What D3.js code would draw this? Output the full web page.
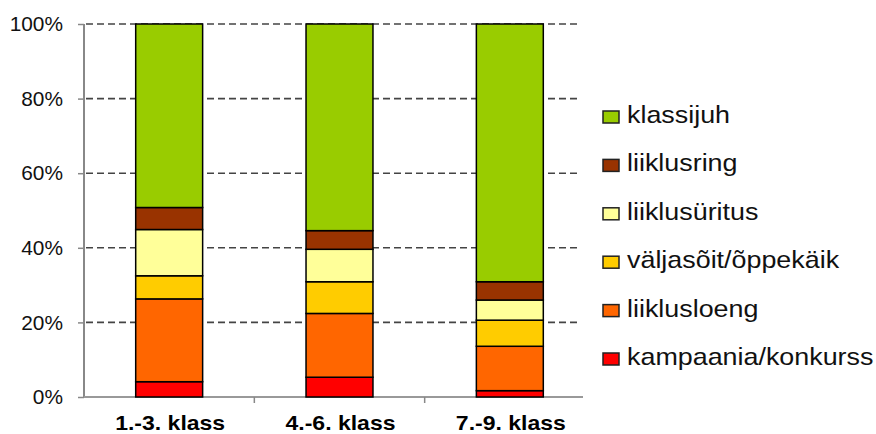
<!DOCTYPE html>
<html>
<head>
<meta charset="utf-8">
<script src="https://cdn.jsdelivr.net/npm/d3@7"></script>
<style>
  html, body { margin: 0; padding: 0; background: #fff; }
  svg { display: block; font-family: "Liberation Sans", Arial, sans-serif; }
</style>
</head>
<body>
<svg id="chart" width="876" height="434"></svg>
<script>
// ---- data ----
const categories = ["1.-3. klass", "4.-6. klass", "7.-9. klass"];
const seriesNames = ["kampaania/konkurss", "liiklusloeng", "väljasõit/õppekäik", "liiklusüritus", "liiklusring", "klassijuh"];
const kampaania = [4.1, 5.3, 1.7];
const liiklusloeng = [22.2, 17.1, 11.9];
const valjasoit = [6.2, 8.5, 7.0];
const liiklusuritus = [12.4, 8.7, 5.4];
const liiklusring = [5.9, 5.0, 4.9];
const klassijuh = [49.3, 55.4, 69.1];
const seriesColors = ["#FF0000", "#FF6600", "#FFCC00", "#FFFF99", "#993300", "#99CC00"];
const yTicks = [0, 20, 40, 60, 80, 100];

const seriesValues = [kampaania, liiklusloeng, valjasoit, liiklusuritus, liiklusring, klassijuh];
const rows = categories.map((c, i) => {
  const r = { cat: c };
  seriesNames.forEach((s, j) => r[s] = seriesValues[j][i]);
  return r;
});

const svg = d3.select("#chart");
const x = d3.scaleBand().domain(categories).range([84, 595]).padding(0);
const y = d3.scaleLinear().domain([0, 100]).range([397, 24]);
const color = d3.scaleOrdinal().domain(seriesNames).range(seriesColors);
const barW = x.bandwidth() * 0.393;

// grid lines
svg.append("g").selectAll("line").data(yTicks).join("line")
  .attr("x1", 86).attr("x2", 578)
  .attr("y1", d => y(d)).attr("y2", d => y(d))
  .attr("stroke", "#444").attr("stroke-width", 1.6)
  .attr("stroke-dasharray", "7,4");

// y axis
const yAxis = svg.append("g").attr("transform", "translate(84,0)")
  .call(d3.axisLeft(y).tickValues(yTicks).tickSize(6).tickFormat(d => d + "%"));
yAxis.select(".domain").attr("stroke", "#888").attr("stroke-width", 2).attr("d", `M0,${y(0)}V${y(100)}`);
yAxis.selectAll(".tick line").attr("stroke", "#888").attr("stroke-width", 1.5);
yAxis.selectAll(".tick text")
  .attr("font-size", 19.5).attr("fill", "#111").attr("font-family", "Liberation Sans, Arial, sans-serif")
  .attr("x", null).attr("dy", null)
  .attr("text-anchor", "end").attr("dominant-baseline", "central")
  .attr("transform", "translate(-21,0) scale(1.07,1)");

// x axis
const xAxis = svg.append("g").attr("transform", `translate(0,${y(0)})`)
  .call(d3.axisBottom(x).tickSize(0).tickFormat(d => d));
xAxis.select(".domain").attr("stroke", "#999").attr("stroke-width", 2).attr("d", `M84,0H583`);
xAxis.selectAll(".tick text")
  .attr("font-size", 19.5).attr("font-weight", "bold").attr("fill", "#000")
  .attr("font-family", "Liberation Sans, Arial, sans-serif")
  .attr("y", null).attr("dy", null)
  .attr("transform", "translate(1,33) scale(1.18,1)");
// category separator ticks
svg.append("g").selectAll("line").data(categories.slice(1)).join("line")
  .attr("x1", d => x(d)).attr("x2", d => x(d))
  .attr("y1", y(0)).attr("y2", y(0) + 6)
  .attr("stroke", "#888").attr("stroke-width", 1.5);

// stacked bars
const stacked = d3.stack().keys(seriesNames)(rows);
svg.append("g").selectAll("g").data(stacked).join("g")
  .attr("fill", d => color(d.key))
  .selectAll("rect").data(d => d).join("rect")
  .attr("x", d => x(d.data.cat) + (x.bandwidth() - barW) / 2)
  .attr("width", barW)
  .attr("y", d => y(Math.min(d[1], 100)))
  .attr("height", d => y(d[0]) - y(Math.min(d[1], 100)))
  .attr("stroke", "#000").attr("stroke-width", 1.5);

// legend (top to bottom: reversed order)
const legendItems = seriesNames.slice().reverse();
const lg = svg.append("g").selectAll("g").data(legendItems).join("g")
  .attr("transform", (d, i) => `translate(603,${117 + i * 48.4})`);
lg.append("rect").attr("x", 0).attr("y", -6).attr("width", 16).attr("height", 12)
  .attr("fill", d => color(d)).attr("stroke", "#222").attr("stroke-width", 1.5);
lg.append("text")
  .attr("transform", "translate(24,6) scale(1.12,1)")
  .attr("font-size", 24).attr("fill", "#111")
  .text(d => d);
</script>
</body>
</html>
